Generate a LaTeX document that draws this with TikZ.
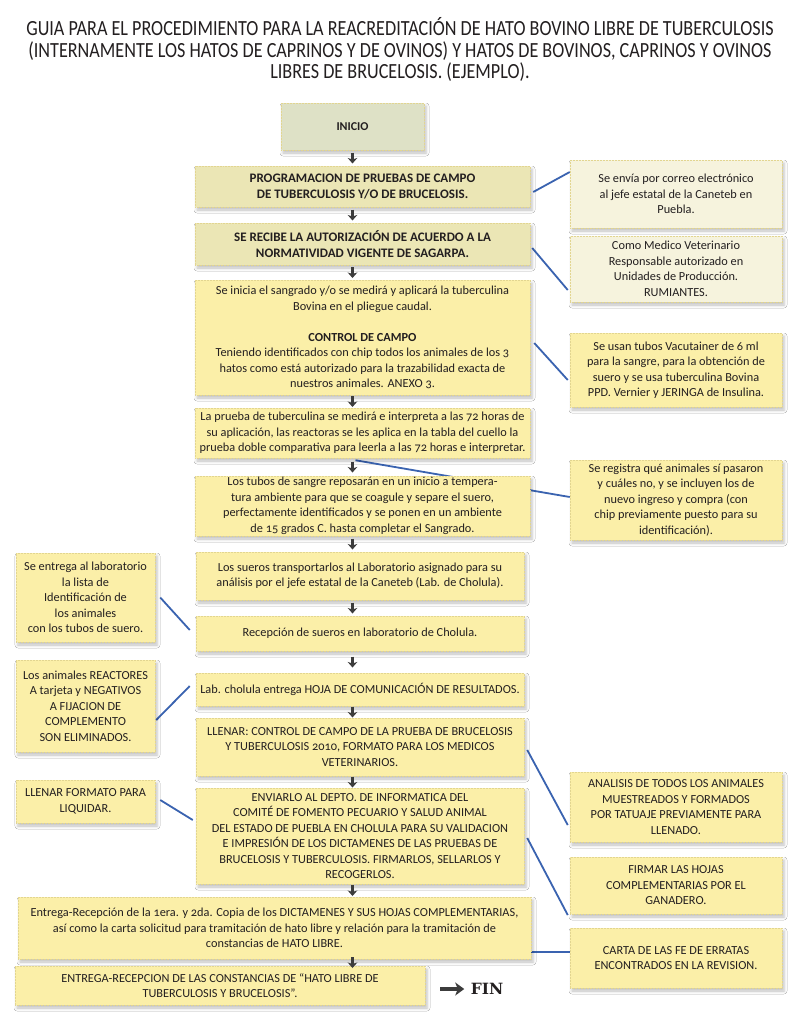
\documentclass[tikz,border=0pt]{standalone}
\usepackage{fontspec}
\setmainfont[Numbers=OldStyle]{Carlito}
\newfontfamily\condfont[FakeStretch=0.84]{Carlito}
\newfontfamily\slabfont{DejaVu Serif}
\usetikzlibrary{arrows.meta}
\usetikzlibrary{shadows.blur}
\usetikzlibrary{backgrounds}
\usetikzlibrary{calc}
\definecolor{boxyellow}{HTML}{FBEFA8}
\definecolor{boxkhaki}{HTML}{EBE6B5}
\definecolor{boxsage}{HTML}{DEE1C6}
\definecolor{boxpale}{HTML}{F6F3DD}
\definecolor{dotline}{HTML}{E2D590}
\definecolor{linkblue}{HTML}{3A63B0}
\definecolor{arrowgray}{HTML}{3C3C3C}
\definecolor{ink}{HTML}{231F20}
\tikzstyle{box}=[draw=dotline,densely dotted,line width=.5pt,fill=boxyellow,text=ink,align=center,inner sep=1pt,font=\fontsize{12.3}{15.5}\selectfont,blur shadow={shadow xshift=2pt,shadow yshift=-3pt,shadow blur radius=3pt,shadow opacity=25}]
\tikzstyle{khaki}=[box,fill=boxkhaki,font=\fontsize{13}{16}\selectfont\bfseries]
\tikzstyle{pale}=[box,fill=boxpale]
\tikzstyle{down}=[arrowgray,line width=2.8pt,-{Stealth[length=5.5pt,width=9.5pt,inset=1.5pt]}]
\tikzstyle{link}=[linkblue,line width=1.8pt]
\begin{document}
\begin{tikzpicture}[x=1pt,y=-1pt]
		\useasboundingbox (0,0) rectangle (800,1018);
		\node[font=\condfont\fontsize{21.6}{21.5}\selectfont,align=center,text=ink] (titulo) at (400,49.5) {GUIA PARA EL PROCEDIMIENTO PARA LA REACREDITACIÓN DE HATO BOVINO LIBRE DE TUBERCULOSIS\\(INTERNAMENTE LOS HATOS DE CAPRINOS Y DE OVINOS) Y HATOS DE BOVINOS, CAPRINOS Y OVINOS\\LIBRES DE BRUCELOSIS. (EJEMPLO).};

		% columna central
		\node[box,fill=boxsage,font=\fontsize{12}{15}\selectfont\bfseries,minimum width=143pt,minimum height=47pt] (inicio) at (352.5,126.5) {INICIO};
		\node[khaki,minimum width=335pt,minimum height=41pt] (prog) at (362.5,186.5) {PROGRAMACION DE PRUEBAS DE CAMPO\\DE TUBERCULOSIS Y/O DE BRUCELOSIS.};
		\node[khaki,minimum width=335pt,minimum height=42pt] (recibe) at (362.5,244) {SE RECIBE LA AUTORIZACIÓN DE ACUERDO A LA\\NORMATIVIDAD VIGENTE DE SAGARPA.};
		\node[box,minimum width=335pt,minimum height=115pt] (sangrado) at (362.5,337.5) {Se inicia el sangrado y/o se medirá y aplicará la tuberculina\\Bovina en el pliegue caudal.\\[15.5pt]\textbf{CONTROL DE CAMPO}\\Teniendo identificados con chip todos los animales de los 3\\hatos como está autorizado para la trazabilidad exacta de\\nuestros animales. ANEXO 3.};
		\node[box,minimum width=335pt,minimum height=50pt] (prueba) at (362.5,433) {La prueba de tuberculina se medirá e interpreta a las 72 horas de\\su aplicación, las reactoras se les aplica en la tabla del cuello la\\prueba doble comparativa para leerla a las 72 horas e interpretar.};
		\node[box,minimum width=335pt,minimum height=60pt] (tubos) at (362.5,506) {Los tubos de sangre reposarán en un inicio a tempera-\\tura ambiente para que se coagule y separe el suero,\\perfectamente identificados y se ponen en un ambiente\\de 15 grados C. hasta completar el Sangrado.};
		\node[box,minimum width=328pt,minimum height=48pt] (sueros) at (360,576) {Los sueros transportarlos al Laboratorio asignado para su\\análisis por el jefe estatal de la Caneteb (Lab. de Cholula).};
		\node[box,minimum width=328pt,minimum height=35pt] (recep) at (360,633.5) {Recepción de sueros en laboratorio de Cholula.};
		\node[box,minimum width=328pt,minimum height=33pt] (labch) at (360,689.5) {Lab. cholula entrega HOJA DE COMUNICACIÓN DE RESULTADOS.};
		\node[box,minimum width=328pt,minimum height=58pt] (llenar) at (360,747) {LLENAR: CONTROL DE CAMPO DE LA PRUEBA DE BRUCELOSIS\\Y TUBERCULOSIS 2010, FORMATO PARA LOS MEDICOS\\VETERINARIOS.};
		\node[box,minimum width=328pt,minimum height=96pt] (enviar) at (360,836) {ENVIARLO AL DEPTO. DE INFORMATICA DEL\\COMITÉ DE FOMENTO PECUARIO Y SALUD ANIMAL\\DEL ESTADO DE PUEBLA  EN CHOLULA PARA SU VALIDACION\\E IMPRESIÓN DE LOS DICTAMENES DE LAS PRUEBAS DE\\BRUCELOSIS Y TUBERCULOSIS. FIRMARLOS,  SELLARLOS Y\\RECOGERLOS.};
		\node[box,minimum width=513pt,minimum height=62pt] (entrega) at (274.5,928) {Entrega-Recepción de la 1era. y 2da. Copia de los DICTAMENES Y SUS HOJAS COMPLEMENTARIAS,\\así como la carta solicitud  para tramitación de hato libre y relación para la tramitación de\\constancias de HATO LIBRE.};
		\node[box,minimum width=410pt,minimum height=39pt] (constancias) at (220,985.5) {ENTREGA-RECEPCION DE LAS CONSTANCIAS DE “HATO LIBRE DE\\TUBERCULOSIS Y BRUCELOSIS”.};
		\node[text=ink,font=\slabfont\bfseries\fontsize{15.5}{15}\selectfont] (fin) at (487,989) {FIN};
		\coordinate (finstart) at (440,989);

		% notas de la derecha
		\node[pale,minimum width=212pt,minimum height=68pt] (correo) at (676,194) {Se envía por correo electrónico\\al jefe estatal de la Caneteb en\\Puebla.};
		\node[pale,minimum width=212pt,minimum height=66pt] (medico) at (676,269) {Como Medico Veterinario\\Responsable autorizado en\\Unidades  de Producción.\\RUMIANTES.};
		\node[box,minimum width=212pt,minimum height=74pt] (vacut) at (676,370) {Se usan tubos Vacutainer de 6 ml\\para la sangre, para la obtención de\\suero y se usa tuberculina Bovina\\PPD. Vernier y JERINGA de Insulina.};
		\node[box,minimum width=212pt,minimum height=80pt] (registro) at (676,500) {Se registra qué animales sí pasaron\\y cuáles no, y se incluyen  los de\\nuevo ingreso y compra (con\\chip previamente puesto para su\\identificación).};
		\node[box,minimum width=212pt,minimum height=70pt] (analisis) at (676,807) {ANALISIS DE TODOS LOS ANIMALES\\MUESTREADOS Y FORMADOS\\POR TATUAJE PREVIAMENTE PARA\\LLENADO.};
		\node[box,minimum width=212pt,minimum height=57pt] (firmar) at (676,885.5) {FIRMAR LAS HOJAS\\COMPLEMENTARIAS POR EL\\GANADERO.};
		\node[box,minimum width=212pt,minimum height=60pt] (carta) at (676,958) {CARTA DE LAS FE DE ERRATAS\\ENCONTRADOS EN LA REVISION.};

		% notas de la izquierda
		\node[box,minimum width=139pt,minimum height=89pt] (lista) at (85.5,597.5) {Se entrega al laboratorio\\la lista de\\Identificación de\\los animales\\con los  tubos de suero.};
		\node[box,minimum width=139pt,minimum height=92pt] (reactores) at (85.5,706) {Los animales REACTORES\\A tarjeta y NEGATIVOS\\A FIJACION DE\\COMPLEMENTO\\SON ELIMINADOS.};
		\node[box,minimum width=139pt,minimum height=43pt] (liquidar) at (85.5,801.5) {LLENAR FORMATO PARA\\LIQUIDAR.};

		\foreach \a / \b in {inicio/prog,prog/recibe,recibe/sangrado,sangrado/prueba,prueba/tubos,tubos/sueros,sueros/recep,recep/labch,labch/llenar,llenar/enviar,enviar/entrega,entrega/constancias} { \draw[down] ($(\a.south -| inicio)!.5!(\b.north -| inicio)$) ++(0,-5.5) -- ++(0,11);}
		\draw[arrowgray,line width=3.4pt,-{Stealth[length=9pt,width=13pt,inset=2.5pt]}] (finstart) -- ([xshift=-3pt]fin.west);

		\begin{scope}[on background layer]
		\fill[white] (0,0) rectangle (800,1018);
		\draw[link] ([xshift=3pt,yshift=-5.5pt]prog.east) -- ([yshift=22pt]correo.west);
		\draw[link] ([xshift=2pt,yshift=-4pt]recibe.east) -- ([xshift=-2pt,yshift=-21pt]medico.west);
		\draw[link] ([xshift=4pt,yshift=-5.5pt]sangrado.east) -- ([xshift=-2pt,yshift=-10pt]vacut.west);
		\draw[link] ([xshift=-7pt,yshift=-2pt]prueba.south) -- ([yshift=3pt]registro.west);
		\draw[link] ([xshift=5pt]lista.east) -- ([xshift=-6pt,yshift=3.5pt]recep.west);
		\draw[link] ([xshift=1pt,yshift=-14pt]reactores.east) -- ([xshift=-6pt,yshift=3.5pt]labch.west);
		\draw[link] ([xshift=5pt,yshift=1.5pt]liquidar.east) -- ([xshift=-3pt,yshift=16pt]enviar.west);
		\draw[link] ([xshift=3pt,yshift=-3pt]llenar.east) -- ([xshift=-2pt,yshift=-18pt]analisis.west);
		\draw[link] ([xshift=3pt,yshift=-2pt]enviar.east) -- ([xshift=-2pt,yshift=-29.5pt]firmar.west);
		\draw[link] ([yshift=-24pt]entrega.east) -- ([yshift=-24pt]entrega.east -| carta.west);
		\end{scope}
	\end{tikzpicture}
\end{document}
